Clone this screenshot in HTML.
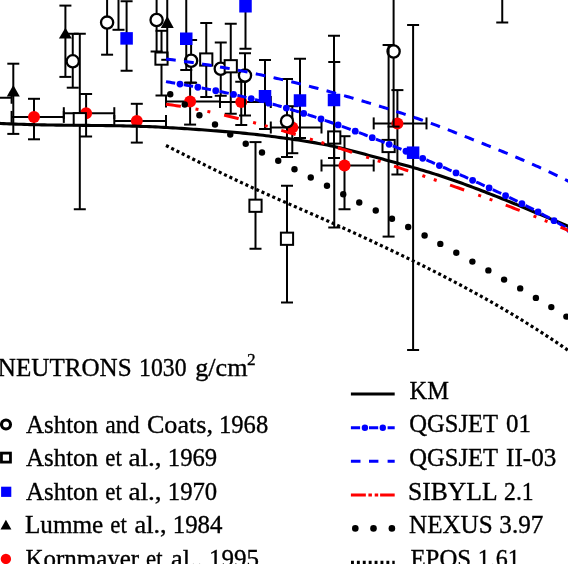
<!DOCTYPE html>
<html><head><meta charset="utf-8"><title>chart</title>
<style>html,body{margin:0;padding:0;background:#fff;}svg{display:block}</style></head>
<body><svg width="568" height="564" viewBox="0 0 568 564">
<rect width="568" height="564" fill="#fff"/>
<g stroke="#000" stroke-width="2.0" fill="none">
<path d="M-2 97.8H11.6M11.6 91.8V103.8"/>
<path d="M34.00 98.80V139.30" />
<path d="M28.00 98.80H40.00" />
<path d="M28.00 139.30H40.00" />
<path d="M11.60 116.90H63.80" />
<path d="M11.60 110.90V122.90" />
<path d="M63.80 110.90V122.90" />
<path d="M86.10 94.00V136.50" />
<path d="M80.10 94.00H92.10" />
<path d="M80.10 136.50H92.10" />
<path d="M63.80 113.20H114.30" />
<path d="M63.80 107.20V119.20" />
<path d="M114.30 107.20V119.20" />
<path d="M136.80 103.80V142.60" />
<path d="M130.80 103.80H142.80" />
<path d="M130.80 142.60H142.80" />
<path d="M114.30 121.00H166.00" />
<path d="M114.30 115.00V127.00" />
<path d="M166.00 115.00V127.00" />
<path d="M190.10 82.70V124.60" />
<path d="M184.10 82.70H196.10" />
<path d="M184.10 124.60H196.10" />
<path d="M166.00 101.60H220.00" />
<path d="M166.00 95.60V107.60" />
<path d="M220.00 95.60V107.60" />
<path d="M241.25 81.75V125.00" />
<path d="M235.25 81.75H247.25" />
<path d="M235.25 125.00H247.25" />
<path d="M220.00 102.00H270.80" />
<path d="M220.00 96.00V108.00" />
<path d="M270.80 96.00V108.00" />
<path d="M292.30 106.20V153.20" />
<path d="M286.30 106.20H298.30" />
<path d="M286.30 153.20H298.30" />
<path d="M270.80 127.50H321.50" />
<path d="M270.80 121.50V133.50" />
<path d="M321.50 121.50V133.50" />
<path d="M344.50 136.20V209.25" />
<path d="M338.50 136.20H350.50" />
<path d="M338.50 209.25H350.50" />
<path d="M321.50 165.50H373.70" />
<path d="M321.50 159.50V171.50" />
<path d="M373.70 159.50V171.50" />
<path d="M397.40 90.10V174.50" />
<path d="M391.40 90.10H403.40" />
<path d="M391.40 174.50H403.40" />
<path d="M373.70 123.40H426.50" />
<path d="M373.70 117.40V129.40" />
<path d="M426.50 117.40V129.40" />
<circle cx="34" cy="116.9" r="6" fill="#ff0000" stroke="none"/>
<circle cx="86.1" cy="113.2" r="6" fill="#ff0000" stroke="none"/>
<circle cx="136.8" cy="121" r="6" fill="#ff0000" stroke="none"/>
<circle cx="190.1" cy="101.6" r="6" fill="#ff0000" stroke="none"/>
<circle cx="241.25" cy="102" r="6" fill="#ff0000" stroke="none"/>
<circle cx="292.3" cy="127.5" r="6" fill="#ff0000" stroke="none"/>
<circle cx="344.5" cy="165.5" r="6" fill="#ff0000" stroke="none"/>
<circle cx="397.4" cy="123.4" r="6" fill="#ff0000" stroke="none"/>
</g>
<g stroke="#000" stroke-width="2.0" fill="none">
<path d="M72.75 33.75V87.70" />
<path d="M66.75 33.75H78.75" />
<path d="M66.75 87.70H78.75" />
<path d="M107.10 -5.00V54.70" />
<path d="M101.10 -5.00H113.10" />
<path d="M101.10 54.70H113.10" />
<path d="M156.60 -5.00V51.50" />
<path d="M150.60 -5.00H162.60" />
<path d="M150.60 51.50H162.60" />
<path d="M191.10 40.00V82.70" />
<path d="M185.10 40.00H197.10" />
<path d="M185.10 82.70H197.10" />
<path d="M220.75 42.50V95.75" />
<path d="M214.75 42.50H226.75" />
<path d="M214.75 95.75H226.75" />
<path d="M245.00 53.25V115.50" />
<path d="M239.00 53.25H251.00" />
<path d="M239.00 115.50H251.00" />
<path d="M287.00 79.00V157.00" />
<path d="M281.00 79.00H293.00" />
<path d="M281.00 157.00H293.00" />
<path d="M393.60 -5.00V126.60" />
<path d="M387.60 -5.00H399.60" />
<path d="M387.60 126.60H399.60" />
<circle cx="72.75" cy="61.3" r="6.1" fill="#fff" stroke-width="2.3"/>
<circle cx="107.1" cy="22.6" r="6.1" fill="#fff" stroke-width="2.3"/>
<circle cx="156.6" cy="20" r="6.1" fill="#fff" stroke-width="2.3"/>
<circle cx="191.1" cy="60.75" r="6.1" fill="#fff" stroke-width="2.3"/>
<circle cx="220.75" cy="68.75" r="6.1" fill="#fff" stroke-width="2.3"/>
<circle cx="245" cy="75.5" r="6.1" fill="#fff" stroke-width="2.3"/>
<circle cx="287" cy="121.25" r="6.1" fill="#fff" stroke-width="2.3"/>
<circle cx="393.6" cy="51.5" r="6.1" fill="#fff" stroke-width="2.3"/>
</g>
<g stroke="#000" stroke-width="2.0" fill="none">
<path d="M79.80 33.75V209.25" />
<path d="M73.80 33.75H85.80" />
<path d="M73.80 209.25H85.80" />
<path d="M161.50 30.80V95.50" />
<path d="M155.50 30.80H167.50" />
<path d="M155.50 95.50H167.50" />
<path d="M206.25 23.00V97.00" />
<path d="M200.25 23.00H212.25" />
<path d="M200.25 97.00H212.25" />
<path d="M230.75 23.75V113.75" />
<path d="M224.75 23.75H236.75" />
<path d="M224.75 113.75H236.75" />
<path d="M334.25 62.00V227.50" />
<path d="M328.25 62.00H340.25" />
<path d="M328.25 227.50H340.25" />
<path d="M255.50 142.10V248.75" />
<path d="M249.50 142.10H261.50" />
<path d="M249.50 248.75H261.50" />
<path d="M287.00 185.75V302.50" />
<path d="M281.00 185.75H293.00" />
<path d="M281.00 302.50H293.00" />
<path d="M388.60 45.00V236.60" />
<path d="M382.60 45.00H394.60" />
<path d="M382.60 236.60H394.60" />
<rect x="73.70" y="113.10" width="12.2" height="12.2" fill="#fff" stroke-width="2"/>
<rect x="155.40" y="52.50" width="12.2" height="12.2" fill="#fff" stroke-width="2"/>
<rect x="200.15" y="53.40" width="12.2" height="12.2" fill="#fff" stroke-width="2"/>
<rect x="224.65" y="60.15" width="12.2" height="12.2" fill="#fff" stroke-width="2"/>
<rect x="328.15" y="131.40" width="12.2" height="12.2" fill="#fff" stroke-width="2"/>
<rect x="249.40" y="199.65" width="12.2" height="12.2" fill="#fff" stroke-width="2"/>
<rect x="280.90" y="232.65" width="12.2" height="12.2" fill="#fff" stroke-width="2"/>
<rect x="382.50" y="139.90" width="12.2" height="12.2" fill="#fff" stroke-width="2"/>
</g>
<g stroke="#000" stroke-width="2.0" fill="none">
<path d="M126.60 1.25V70.75" />
<path d="M120.60 1.25H132.60" />
<path d="M120.60 70.75H132.60" />
<path d="M186.25 -5.00V70.00" />
<path d="M180.25 -5.00H192.25" />
<path d="M180.25 70.00H192.25" />
<path d="M245.50 -5.00V48.75" />
<path d="M239.50 -5.00H251.50" />
<path d="M239.50 48.75H251.50" />
<path d="M265.00 60.00V129.00" />
<path d="M259.00 60.00H271.00" />
<path d="M259.00 129.00H271.00" />
<path d="M300.00 58.75V138.00" />
<path d="M294.00 58.75H306.00" />
<path d="M294.00 138.00H306.00" />
<path d="M334.00 35.75V158.00" />
<path d="M328.00 35.75H340.00" />
<path d="M328.00 158.00H340.00" />
<path d="M413.10 25.00V350.00" />
<path d="M407.10 25.00H419.10" />
<path d="M407.10 350.00H419.10" />
<path d="M118.50 -5.00V29.80" />
<path d="M112.50 -5.00H124.50" />
<path d="M112.50 29.80H124.50" />
<path d="M502.25 -5.00V22.50" />
<path d="M496.25 -5.00H508.25" />
<path d="M496.25 22.50H508.25" />
<rect x="120.35" y="32.15" width="12.5" height="12.5" fill="#0000ff" stroke="none"/>
<rect x="180.00" y="32.50" width="12.5" height="12.5" fill="#0000ff" stroke="none"/>
<rect x="239.25" y="0.00" width="12.5" height="12.5" fill="#0000ff" stroke="none"/>
<rect x="258.75" y="90.00" width="12.5" height="12.5" fill="#0000ff" stroke="none"/>
<rect x="293.75" y="94.25" width="12.5" height="12.5" fill="#0000ff" stroke="none"/>
<rect x="327.75" y="93.75" width="12.5" height="12.5" fill="#0000ff" stroke="none"/>
<rect x="406.85" y="146.45" width="12.5" height="12.5" fill="#0000ff" stroke="none"/>
</g>
<g stroke="#000" stroke-width="2.0" fill="none">
<path d="M13.30 63.70V133.90" />
<path d="M7.30 63.70H19.30" />
<path d="M7.30 133.90H19.30" />
<path d="M65.40 5.60V76.90" />
<path d="M59.40 5.60H71.40" />
<path d="M59.40 76.90H71.40" />
<path d="M167.25 -5.00V59.80" />
<path d="M161.25 -5.00H173.25" />
<path d="M161.25 59.80H173.25" />
<path d="M13.3 85.0L19.8 96.5H6.800000000000001Z" fill="#000" stroke="none"/>
<path d="M65.4 27.8L71.9 38.6H58.900000000000006Z" fill="#000" stroke="none"/>
<path d="M167.25 15.95L173.75 28.1H160.75Z" fill="#000" stroke="none"/>
</g>
<g fill="none" stroke-linecap="butt">
<path d="M-5.00 123.12 L-2.09 123.29 L0.83 123.45 L3.74 123.60 L6.66 123.74 L9.57 123.87 L12.49 124.00 L15.40 124.11 L18.32 124.22 L21.23 124.32 L24.15 124.42 L27.06 124.50 L29.97 124.58 L32.89 124.66 L35.80 124.73 L38.72 124.79 L41.63 124.85 L44.55 124.91 L47.46 124.96 L50.38 125.00 L53.29 125.05 L56.21 125.08 L59.12 125.12 L62.04 125.16 L64.95 125.19 L67.86 125.22 L70.78 125.25 L73.69 125.27 L76.61 125.30 L79.52 125.32 L82.44 125.35 L85.35 125.38 L88.27 125.40 L91.18 125.43 L94.10 125.46 L97.01 125.49 L99.92 125.52 L102.84 125.55 L105.75 125.59 L108.67 125.63 L111.58 125.67 L114.50 125.72 L117.41 125.77 L120.33 125.82 L123.24 125.88 L126.16 125.94 L129.07 126.01 L131.98 126.09 L134.90 126.17 L137.81 126.25 L140.73 126.35 L143.64 126.45 L146.56 126.55 L149.47 126.67 L152.39 126.79 L155.30 126.92 L158.22 127.06 L161.13 127.20 L164.05 127.36 L166.96 127.51 L169.87 127.68 L172.79 127.85 L175.70 128.03 L178.62 128.21 L181.53 128.39 L184.45 128.58 L187.36 128.78 L190.28 128.98 L193.19 129.18 L196.11 129.39 L199.02 129.60 L201.93 129.81 L204.85 130.03 L207.76 130.24 L210.68 130.46 L213.59 130.68 L216.51 130.90 L219.42 131.13 L222.34 131.36 L225.25 131.59 L228.17 131.82 L231.08 132.06 L233.99 132.31 L236.91 132.56 L239.82 132.82 L242.74 133.10 L245.65 133.38 L248.57 133.67 L251.48 133.98 L254.40 134.29 L257.31 134.62 L260.23 134.96 L263.14 135.31 L266.06 135.67 L268.97 136.04 L271.88 136.42 L274.80 136.81 L277.71 137.20 L280.63 137.59 L283.54 137.99 L286.46 138.40 L289.37 138.81 L292.29 139.22 L295.20 139.64 L298.12 140.07 L301.03 140.51 L303.94 140.96 L306.86 141.42 L309.77 141.90 L312.69 142.39 L315.60 142.89 L318.52 143.41 L321.43 143.95 L324.35 144.51 L327.26 145.09 L330.18 145.69 L333.09 146.31 L336.01 146.96 L338.92 147.63 L341.83 148.32 L344.75 149.02 L347.66 149.75 L350.58 150.48 L353.49 151.24 L356.41 152.00 L359.32 152.77 L362.24 153.55 L365.15 154.34 L368.07 155.13 L370.98 155.93 L373.89 156.73 L376.81 157.53 L379.72 158.33 L382.64 159.12 L385.55 159.91 L388.47 160.71 L391.38 161.50 L394.30 162.29 L397.21 163.09 L400.13 163.88 L403.04 164.69 L405.95 165.49 L408.87 166.31 L411.78 167.13 L414.70 167.96 L417.61 168.81 L420.53 169.66 L423.44 170.52 L426.36 171.40 L429.27 172.29 L432.19 173.20 L435.10 174.12 L438.02 175.06 L440.93 176.01 L443.84 176.98 L446.76 177.96 L449.67 178.95 L452.59 179.96 L455.50 180.98 L458.42 182.01 L461.33 183.06 L464.25 184.11 L467.16 185.18 L470.08 186.26 L472.99 187.35 L475.90 188.45 L478.82 189.56 L481.73 190.68 L484.65 191.80 L487.56 192.94 L490.48 194.08 L493.39 195.23 L496.31 196.39 L499.22 197.56 L502.14 198.73 L505.05 199.91 L507.96 201.10 L510.88 202.29 L513.79 203.48 L516.71 204.69 L519.62 205.89 L522.54 207.10 L525.45 208.31 L528.37 209.53 L531.28 210.75 L534.20 211.97 L537.11 213.20 L540.03 214.42 L542.94 215.65 L545.85 216.88 L548.77 218.11 L551.68 219.34 L554.60 220.57 L557.51 221.80 L560.43 223.03 L563.34 224.25 L566.26 225.48 L569.17 226.70 L572.09 227.92 L575.00 229.14" stroke="#000" stroke-width="3.1"/>
<path d="M166.00 59.11 L168.06 59.34 L170.11 59.59 L172.17 59.83 L174.22 60.08 L176.28 60.34 L178.33 60.60 L180.39 60.87 L182.44 61.14 L184.50 61.42 L186.55 61.70 L188.61 61.98 L190.66 62.27 L192.72 62.57 L194.77 62.87 L196.83 63.17 L198.88 63.48 L200.94 63.79 L202.99 64.11 L205.05 64.44 L207.11 64.76 L209.16 65.09 L211.22 65.43 L213.27 65.77 L215.33 66.12 L217.38 66.47 L219.44 66.82 L221.49 67.18 L223.55 67.54 L225.60 67.91 L227.66 68.28 L229.71 68.65 L231.77 69.03 L233.82 69.42 L235.88 69.81 L237.93 70.20 L239.99 70.60 L242.05 71.00 L244.10 71.40 L246.16 71.81 L248.21 72.22 L250.27 72.64 L252.32 73.06 L254.38 73.49 L256.43 73.92 L258.49 74.35 L260.54 74.79 L262.60 75.23 L264.65 75.67 L266.71 76.12 L268.76 76.58 L270.82 77.03 L272.87 77.49 L274.93 77.96 L276.98 78.43 L279.04 78.90 L281.10 79.38 L283.15 79.86 L285.21 80.34 L287.26 80.83 L289.32 81.32 L291.37 81.81 L293.43 82.31 L295.48 82.81 L297.54 83.32 L299.59 83.82 L301.65 84.34 L303.70 84.85 L305.76 85.37 L307.81 85.89 L309.87 86.42 L311.92 86.95 L313.98 87.48 L316.04 88.02 L318.09 88.56 L320.15 89.10 L322.20 89.65 L324.26 90.20 L326.31 90.75 L328.37 91.31 L330.42 91.87 L332.48 92.43 L334.53 93.00 L336.59 93.56 L338.64 94.14 L340.70 94.71 L342.75 95.29 L344.81 95.87 L346.86 96.46 L348.92 97.04 L350.97 97.63 L353.03 98.23 L355.09 98.82 L357.14 99.42 L359.20 100.03 L361.25 100.63 L363.31 101.24 L365.36 101.85 L367.42 102.47 L369.47 103.08 L371.53 103.70 L373.58 104.33 L375.64 104.95 L377.69 105.58 L379.75 106.21 L381.80 106.85 L383.86 107.49 L385.91 108.13 L387.97 108.78 L390.03 109.43 L392.08 110.09 L394.14 110.75 L396.19 111.41 L398.25 112.08 L400.30 112.75 L402.36 113.43 L404.41 114.11 L406.47 114.79 L408.52 115.48 L410.58 116.18 L412.63 116.88 L414.69 117.58 L416.74 118.29 L418.80 119.01 L420.85 119.73 L422.91 120.46 L424.96 121.19 L427.02 121.93 L429.08 122.67 L431.13 123.42 L433.19 124.17 L435.24 124.94 L437.30 125.70 L439.35 126.48 L441.41 127.25 L443.46 128.04 L445.52 128.83 L447.57 129.62 L449.63 130.42 L451.68 131.22 L453.74 132.02 L455.79 132.83 L457.85 133.63 L459.90 134.45 L461.96 135.26 L464.02 136.07 L466.07 136.89 L468.13 137.71 L470.18 138.52 L472.24 139.34 L474.29 140.16 L476.35 140.98 L478.40 141.80 L480.46 142.62 L482.51 143.44 L484.57 144.26 L486.62 145.09 L488.68 145.91 L490.73 146.74 L492.79 147.57 L494.84 148.40 L496.90 149.24 L498.95 150.07 L501.01 150.91 L503.07 151.76 L505.12 152.60 L507.18 153.45 L509.23 154.30 L511.29 155.16 L513.34 156.02 L515.40 156.89 L517.45 157.75 L519.51 158.63 L521.56 159.50 L523.62 160.39 L525.67 161.27 L527.73 162.17 L529.78 163.06 L531.84 163.97 L533.89 164.88 L535.95 165.79 L538.01 166.71 L540.06 167.64 L542.12 168.57 L544.17 169.51 L546.23 170.46 L548.28 171.41 L550.34 172.37 L552.39 173.34 L554.45 174.32 L556.50 175.30 L558.56 176.29 L560.61 177.29 L562.67 178.30 L564.72 179.31 L566.78 180.34 L568.83 181.37 L570.89 182.41 L572.94 183.46 L575.00 184.52" stroke="#0000ff" stroke-width="3" stroke-dasharray="9.8 8.4"/>
<path d="M166.00 81.61 L168.06 81.98 L170.11 82.35 L172.17 82.71 L174.22 83.07 L176.28 83.44 L178.33 83.80 L180.39 84.16 L182.44 84.52 L184.50 84.88 L186.55 85.25 L188.61 85.61 L190.66 85.98 L192.72 86.34 L194.77 86.71 L196.83 87.08 L198.88 87.46 L200.94 87.83 L202.99 88.21 L205.05 88.60 L207.11 88.98 L209.16 89.37 L211.22 89.77 L213.27 90.17 L215.33 90.58 L217.38 90.99 L219.44 91.40 L221.49 91.83 L223.55 92.26 L225.60 92.69 L227.66 93.13 L229.71 93.57 L231.77 94.02 L233.82 94.48 L235.88 94.94 L237.93 95.41 L239.99 95.88 L242.05 96.36 L244.10 96.85 L246.16 97.34 L248.21 97.83 L250.27 98.34 L252.32 98.84 L254.38 99.36 L256.43 99.88 L258.49 100.40 L260.54 100.93 L262.60 101.47 L264.65 102.01 L266.71 102.56 L268.76 103.11 L270.82 103.67 L272.87 104.24 L274.93 104.81 L276.98 105.38 L279.04 105.97 L281.10 106.55 L283.15 107.15 L285.21 107.75 L287.26 108.35 L289.32 108.96 L291.37 109.58 L293.43 110.20 L295.48 110.82 L297.54 111.46 L299.59 112.09 L301.65 112.73 L303.70 113.38 L305.76 114.03 L307.81 114.69 L309.87 115.35 L311.92 116.02 L313.98 116.69 L316.04 117.37 L318.09 118.05 L320.15 118.74 L322.20 119.43 L324.26 120.13 L326.31 120.83 L328.37 121.54 L330.42 122.25 L332.48 122.96 L334.53 123.68 L336.59 124.41 L338.64 125.14 L340.70 125.87 L342.75 126.61 L344.81 127.35 L346.86 128.10 L348.92 128.85 L350.97 129.60 L353.03 130.36 L355.09 131.13 L357.14 131.89 L359.20 132.67 L361.25 133.44 L363.31 134.22 L365.36 135.01 L367.42 135.79 L369.47 136.59 L371.53 137.38 L373.58 138.18 L375.64 138.98 L377.69 139.79 L379.75 140.60 L381.80 141.42 L383.86 142.23 L385.91 143.06 L387.97 143.88 L390.03 144.71 L392.08 145.54 L394.14 146.38 L396.19 147.22 L398.25 148.06 L400.30 148.90 L402.36 149.75 L404.41 150.60 L406.47 151.46 L408.52 152.32 L410.58 153.18 L412.63 154.04 L414.69 154.91 L416.74 155.78 L418.80 156.65 L420.85 157.52 L422.91 158.40 L424.96 159.28 L427.02 160.17 L429.08 161.05 L431.13 161.94 L433.19 162.83 L435.24 163.73 L437.30 164.62 L439.35 165.52 L441.41 166.42 L443.46 167.32 L445.52 168.23 L447.57 169.14 L449.63 170.05 L451.68 170.96 L453.74 171.87 L455.79 172.79 L457.85 173.70 L459.90 174.62 L461.96 175.55 L464.02 176.47 L466.07 177.39 L468.13 178.32 L470.18 179.25 L472.24 180.18 L474.29 181.11 L476.35 182.05 L478.40 182.98 L480.46 183.92 L482.51 184.86 L484.57 185.80 L486.62 186.75 L488.68 187.70 L490.73 188.65 L492.79 189.60 L494.84 190.56 L496.90 191.52 L498.95 192.49 L501.01 193.46 L503.07 194.44 L505.12 195.42 L507.18 196.40 L509.23 197.39 L511.29 198.39 L513.34 199.39 L515.40 200.39 L517.45 201.41 L519.51 202.43 L521.56 203.45 L523.62 204.48 L525.67 205.52 L527.73 206.56 L529.78 207.62 L531.84 208.68 L533.89 209.74 L535.95 210.82 L538.01 211.90 L540.06 212.99 L542.12 214.09 L544.17 215.20 L546.23 216.32 L548.28 217.44 L550.34 218.58 L552.39 219.72 L554.45 220.88 L556.50 222.04 L558.56 223.22 L560.61 224.40 L562.67 225.60 L564.72 226.80 L566.78 228.02 L568.83 229.25 L570.89 230.49 L572.94 231.74 L575.00 233.00" stroke="#0000ff" stroke-width="3" stroke-dasharray="9.3 8.88"/>
<circle cx="179.98" cy="84.09" r="3.4" fill="#0000ff" stroke="none"/>
<circle cx="197.88" cy="87.27" r="3.4" fill="#0000ff" stroke="none"/>
<circle cx="215.74" cy="90.66" r="3.4" fill="#0000ff" stroke="none"/>
<circle cx="233.53" cy="94.42" r="3.4" fill="#0000ff" stroke="none"/>
<circle cx="251.23" cy="98.57" r="3.4" fill="#0000ff" stroke="none"/>
<circle cx="268.83" cy="103.13" r="3.4" fill="#0000ff" stroke="none"/>
<circle cx="286.32" cy="108.08" r="3.4" fill="#0000ff" stroke="none"/>
<circle cx="303.71" cy="113.38" r="3.4" fill="#0000ff" stroke="none"/>
<circle cx="320.99" cy="119.02" r="3.4" fill="#0000ff" stroke="none"/>
<circle cx="338.17" cy="124.97" r="3.4" fill="#0000ff" stroke="none"/>
<circle cx="355.25" cy="131.19" r="3.4" fill="#0000ff" stroke="none"/>
<circle cx="372.24" cy="137.66" r="3.4" fill="#0000ff" stroke="none"/>
<circle cx="389.15" cy="144.36" r="3.4" fill="#0000ff" stroke="none"/>
<circle cx="405.97" cy="151.25" r="3.4" fill="#0000ff" stroke="none"/>
<circle cx="422.72" cy="158.32" r="3.4" fill="#0000ff" stroke="none"/>
<circle cx="439.40" cy="165.54" r="3.4" fill="#0000ff" stroke="none"/>
<circle cx="456.03" cy="172.89" r="3.4" fill="#0000ff" stroke="none"/>
<circle cx="472.61" cy="180.35" r="3.4" fill="#0000ff" stroke="none"/>
<circle cx="489.14" cy="187.91" r="3.4" fill="#0000ff" stroke="none"/>
<circle cx="505.59" cy="195.64" r="3.4" fill="#0000ff" stroke="none"/>
<circle cx="521.92" cy="203.63" r="3.4" fill="#0000ff" stroke="none"/>
<circle cx="538.09" cy="211.95" r="3.4" fill="#0000ff" stroke="none"/>
<circle cx="554.05" cy="220.65" r="3.4" fill="#0000ff" stroke="none"/>
<circle cx="569.76" cy="229.80" r="3.4" fill="#0000ff" stroke="none"/>
<path d="M166.00 104.21 L168.06 104.49 L170.11 104.77 L172.17 105.07 L174.22 105.37 L176.28 105.69 L178.33 106.01 L180.39 106.34 L182.44 106.67 L184.50 107.02 L186.55 107.37 L188.61 107.73 L190.66 108.10 L192.72 108.48 L194.77 108.87 L196.83 109.26 L198.88 109.66 L200.94 110.06 L202.99 110.48 L205.05 110.90 L207.11 111.32 L209.16 111.76 L211.22 112.20 L213.27 112.64 L215.33 113.10 L217.38 113.56 L219.44 114.02 L221.49 114.49 L223.55 114.97 L225.60 115.45 L227.66 115.94 L229.71 116.44 L231.77 116.94 L233.82 117.44 L235.88 117.95 L237.93 118.47 L239.99 118.99 L242.05 119.51 L244.10 120.04 L246.16 120.58 L248.21 121.12 L250.27 121.66 L252.32 122.21 L254.38 122.76 L256.43 123.32 L258.49 123.88 L260.54 124.44 L262.60 125.01 L264.65 125.58 L266.71 126.16 L268.76 126.74 L270.82 127.32 L272.87 127.91 L274.93 128.50 L276.98 129.09 L279.04 129.68 L281.10 130.28 L283.15 130.88 L285.21 131.49 L287.26 132.09 L289.32 132.70 L291.37 133.32 L293.43 133.93 L295.48 134.55 L297.54 135.17 L299.59 135.79 L301.65 136.42 L303.70 137.05 L305.76 137.68 L307.81 138.31 L309.87 138.94 L311.92 139.58 L313.98 140.22 L316.04 140.86 L318.09 141.50 L320.15 142.15 L322.20 142.79 L324.26 143.44 L326.31 144.09 L328.37 144.75 L330.42 145.40 L332.48 146.05 L334.53 146.71 L336.59 147.37 L338.64 148.03 L340.70 148.69 L342.75 149.35 L344.81 150.01 L346.86 150.68 L348.92 151.34 L350.97 152.01 L353.03 152.68 L355.09 153.35 L357.14 154.01 L359.20 154.68 L361.25 155.35 L363.31 156.03 L365.36 156.70 L367.42 157.37 L369.47 158.04 L371.53 158.71 L373.58 159.39 L375.64 160.06 L377.69 160.74 L379.75 161.41 L381.80 162.09 L383.86 162.76 L385.91 163.44 L387.97 164.12 L390.03 164.80 L392.08 165.48 L394.14 166.16 L396.19 166.84 L398.25 167.52 L400.30 168.20 L402.36 168.88 L404.41 169.57 L406.47 170.25 L408.52 170.94 L410.58 171.63 L412.63 172.32 L414.69 173.01 L416.74 173.70 L418.80 174.39 L420.85 175.08 L422.91 175.78 L424.96 176.47 L427.02 177.17 L429.08 177.87 L431.13 178.57 L433.19 179.27 L435.24 179.97 L437.30 180.67 L439.35 181.38 L441.41 182.08 L443.46 182.79 L445.52 183.50 L447.57 184.21 L449.63 184.92 L451.68 185.64 L453.74 186.35 L455.79 187.07 L457.85 187.79 L459.90 188.51 L461.96 189.24 L464.02 189.96 L466.07 190.69 L468.13 191.41 L470.18 192.14 L472.24 192.88 L474.29 193.61 L476.35 194.35 L478.40 195.08 L480.46 195.82 L482.51 196.57 L484.57 197.31 L486.62 198.06 L488.68 198.81 L490.73 199.56 L492.79 200.31 L494.84 201.07 L496.90 201.83 L498.95 202.59 L501.01 203.35 L503.07 204.12 L505.12 204.89 L507.18 205.67 L509.23 206.44 L511.29 207.22 L513.34 208.01 L515.40 208.80 L517.45 209.59 L519.51 210.38 L521.56 211.18 L523.62 211.98 L525.67 212.79 L527.73 213.60 L529.78 214.41 L531.84 215.23 L533.89 216.06 L535.95 216.88 L538.01 217.71 L540.06 218.55 L542.12 219.39 L544.17 220.24 L546.23 221.09 L548.28 221.94 L550.34 222.80 L552.39 223.67 L554.45 224.54 L556.50 225.42 L558.56 226.30 L560.61 227.18 L562.67 228.08 L564.72 228.97 L566.78 229.88 L568.83 230.79 L570.89 231.70 L572.94 232.62 L575.00 233.55" stroke="#ff0000" stroke-width="3" stroke-dasharray="15 14.9 3 9.1 3 14.15"/>
<path d="M166.00 145.48 L168.06 146.52 L170.11 147.57 L172.17 148.61 L174.22 149.65 L176.28 150.69 L178.33 151.73 L180.39 152.76 L182.44 153.80 L184.50 154.83 L186.55 155.86 L188.61 156.89 L190.66 157.92 L192.72 158.95 L194.77 159.98 L196.83 161.00 L198.88 162.02 L200.94 163.04 L202.99 164.05 L205.05 165.07 L207.11 166.08 L209.16 167.09 L211.22 168.10 L213.27 169.10 L215.33 170.10 L217.38 171.10 L219.44 172.10 L221.49 173.09 L223.55 174.08 L225.60 175.07 L227.66 176.06 L229.71 177.04 L231.77 178.02 L233.82 178.99 L235.88 179.96 L237.93 180.93 L239.99 181.90 L242.05 182.86 L244.10 183.81 L246.16 184.77 L248.21 185.72 L250.27 186.67 L252.32 187.61 L254.38 188.55 L256.43 189.48 L258.49 190.42 L260.54 191.34 L262.60 192.27 L264.65 193.19 L266.71 194.11 L268.76 195.03 L270.82 195.95 L272.87 196.86 L274.93 197.77 L276.98 198.68 L279.04 199.59 L281.10 200.50 L283.15 201.40 L285.21 202.30 L287.26 203.21 L289.32 204.11 L291.37 205.01 L293.43 205.91 L295.48 206.81 L297.54 207.71 L299.59 208.61 L301.65 209.51 L303.70 210.41 L305.76 211.31 L307.81 212.21 L309.87 213.12 L311.92 214.02 L313.98 214.92 L316.04 215.83 L318.09 216.74 L320.15 217.65 L322.20 218.56 L324.26 219.47 L326.31 220.39 L328.37 221.30 L330.42 222.22 L332.48 223.14 L334.53 224.06 L336.59 224.99 L338.64 225.92 L340.70 226.84 L342.75 227.78 L344.81 228.71 L346.86 229.64 L348.92 230.58 L350.97 231.52 L353.03 232.46 L355.09 233.40 L357.14 234.35 L359.20 235.29 L361.25 236.24 L363.31 237.20 L365.36 238.15 L367.42 239.10 L369.47 240.06 L371.53 241.02 L373.58 241.98 L375.64 242.95 L377.69 243.91 L379.75 244.88 L381.80 245.85 L383.86 246.82 L385.91 247.79 L387.97 248.77 L390.03 249.75 L392.08 250.73 L394.14 251.71 L396.19 252.70 L398.25 253.68 L400.30 254.67 L402.36 255.66 L404.41 256.66 L406.47 257.66 L408.52 258.66 L410.58 259.66 L412.63 260.67 L414.69 261.67 L416.74 262.69 L418.80 263.70 L420.85 264.72 L422.91 265.74 L424.96 266.76 L427.02 267.79 L429.08 268.82 L431.13 269.86 L433.19 270.90 L435.24 271.94 L437.30 272.98 L439.35 274.03 L441.41 275.09 L443.46 276.14 L445.52 277.21 L447.57 278.27 L449.63 279.34 L451.68 280.41 L453.74 281.49 L455.79 282.57 L457.85 283.66 L459.90 284.75 L461.96 285.85 L464.02 286.95 L466.07 288.05 L468.13 289.16 L470.18 290.28 L472.24 291.40 L474.29 292.52 L476.35 293.65 L478.40 294.79 L480.46 295.93 L482.51 297.07 L484.57 298.22 L486.62 299.38 L488.68 300.54 L490.73 301.71 L492.79 302.88 L494.84 304.06 L496.90 305.24 L498.95 306.43 L501.01 307.63 L503.07 308.83 L505.12 310.03 L507.18 311.25 L509.23 312.47 L511.29 313.69 L513.34 314.93 L515.40 316.17 L517.45 317.41 L519.51 318.66 L521.56 319.92 L523.62 321.19 L525.67 322.46 L527.73 323.74 L529.78 325.02 L531.84 326.31 L533.89 327.61 L535.95 328.92 L538.01 330.23 L540.06 331.56 L542.12 332.88 L544.17 334.22 L546.23 335.56 L548.28 336.91 L550.34 338.27 L552.39 339.64 L554.45 341.01 L556.50 342.39 L558.56 343.78 L560.61 345.18 L562.67 346.58 L564.72 348.00 L566.78 349.42 L568.83 350.85 L570.89 352.29 L572.94 353.73 L575.00 355.19" stroke="#000" stroke-width="3.2" stroke-dasharray="3.05 2.85"/>
</g>
<circle cx="170.25" cy="94.25" r="3.2" fill="#000"/>
<circle cx="184.75" cy="104.50" r="3.2" fill="#000"/>
<circle cx="199.40" cy="115.20" r="3.2" fill="#000"/>
<circle cx="215.00" cy="124.50" r="3.2" fill="#000"/>
<circle cx="230.25" cy="134.50" r="3.2" fill="#000"/>
<circle cx="245.75" cy="143.75" r="3.2" fill="#000"/>
<circle cx="262.00" cy="152.50" r="3.2" fill="#000"/>
<circle cx="278.25" cy="160.75" r="3.2" fill="#000"/>
<circle cx="294.50" cy="169.25" r="3.2" fill="#000"/>
<circle cx="310.75" cy="177.50" r="3.2" fill="#000"/>
<circle cx="327.00" cy="185.75" r="3.2" fill="#000"/>
<circle cx="343.25" cy="194.25" r="3.2" fill="#000"/>
<circle cx="359.25" cy="202.50" r="3.2" fill="#000"/>
<circle cx="375.75" cy="210.50" r="3.2" fill="#000"/>
<circle cx="392.00" cy="218.75" r="3.2" fill="#000"/>
<circle cx="408.20" cy="227.00" r="3.2" fill="#000"/>
<circle cx="424.60" cy="235.50" r="3.2" fill="#000"/>
<circle cx="440.30" cy="243.90" r="3.2" fill="#000"/>
<circle cx="456.30" cy="252.70" r="3.2" fill="#000"/>
<circle cx="472.40" cy="261.60" r="3.2" fill="#000"/>
<circle cx="488.40" cy="270.40" r="3.2" fill="#000"/>
<circle cx="504.10" cy="279.60" r="3.2" fill="#000"/>
<circle cx="520.20" cy="288.40" r="3.2" fill="#000"/>
<circle cx="535.90" cy="297.90" r="3.2" fill="#000"/>
<circle cx="551.30" cy="307.10" r="3.2" fill="#000"/>
<circle cx="566.40" cy="316.60" r="3.2" fill="#000"/>
<g font-family="'Liberation Serif', serif" fill="#000" stroke="#000" stroke-width="0.35" style="filter:grayscale(1)">
<text x="-2.15" y="375.6" font-size="25" textLength="133.75" lengthAdjust="spacingAndGlyphs">NEUTRONS</text>
<text x="139.12" y="375.6" font-size="25" textLength="47.43" lengthAdjust="spacingAndGlyphs">1030</text>
<text x="195.20" y="375.6" font-size="25" textLength="52.31" lengthAdjust="spacingAndGlyphs">g/cm</text>
<text x="246.91" y="364.5" font-size="17.7" textLength="8.63" lengthAdjust="spacingAndGlyphs">2</text>
<text x="26.00" y="433" font-size="25" textLength="71.98" lengthAdjust="spacingAndGlyphs">Ashton</text>
<text x="105.30" y="433" font-size="25" textLength="34.23" lengthAdjust="spacingAndGlyphs">and</text>
<text x="146.95" y="433" font-size="25" textLength="66.07" lengthAdjust="spacingAndGlyphs">Coats,</text>
<text x="219.04" y="433" font-size="25" textLength="49.14" lengthAdjust="spacingAndGlyphs">1968</text>
<text x="26.00" y="466.2" font-size="25" textLength="71.98" lengthAdjust="spacingAndGlyphs">Ashton</text>
<text x="105.34" y="466.2" font-size="25" textLength="16.45" lengthAdjust="spacingAndGlyphs">et</text>
<text x="128.41" y="466.2" font-size="25" textLength="33.27" lengthAdjust="spacingAndGlyphs">al.,</text>
<text x="167.77" y="466.2" font-size="25" textLength="49.47" lengthAdjust="spacingAndGlyphs">1969</text>
<text x="26.00" y="499.6" font-size="25" textLength="71.98" lengthAdjust="spacingAndGlyphs">Ashton</text>
<text x="105.34" y="499.6" font-size="25" textLength="16.45" lengthAdjust="spacingAndGlyphs">et</text>
<text x="128.41" y="499.6" font-size="25" textLength="33.27" lengthAdjust="spacingAndGlyphs">al.,</text>
<text x="167.77" y="499.6" font-size="25" textLength="49.47" lengthAdjust="spacingAndGlyphs">1970</text>
<text x="25.00" y="533.2" font-size="25" textLength="78.27" lengthAdjust="spacingAndGlyphs">Lumme</text>
<text x="110.34" y="533.2" font-size="25" textLength="16.45" lengthAdjust="spacingAndGlyphs">et</text>
<text x="134.45" y="533.2" font-size="25" textLength="32.18" lengthAdjust="spacingAndGlyphs">al.,</text>
<text x="172.76" y="533.2" font-size="25" textLength="49.74" lengthAdjust="spacingAndGlyphs">1984</text>
<text x="25.50" y="567.0" font-size="25" textLength="113.59" lengthAdjust="spacingAndGlyphs">Kornmayer</text>
<text x="146.09" y="567.0" font-size="25" textLength="16.45" lengthAdjust="spacingAndGlyphs">et</text>
<text x="170.95" y="567.0" font-size="25" textLength="32.18" lengthAdjust="spacingAndGlyphs">al.,</text>
<text x="209.00" y="567.0" font-size="25" textLength="50.00" lengthAdjust="spacingAndGlyphs">1995</text>
<text x="409.62" y="398.8" font-size="25" textLength="39.35" lengthAdjust="spacingAndGlyphs">KM</text>
<text x="409.37" y="432.2" font-size="25" textLength="88.76" lengthAdjust="spacingAndGlyphs">QGSJET</text>
<text x="506.10" y="432.2" font-size="25" textLength="24.89" lengthAdjust="spacingAndGlyphs">01</text>
<text x="409.37" y="465.9" font-size="25" textLength="88.76" lengthAdjust="spacingAndGlyphs">QGSJET</text>
<text x="506.10" y="465.9" font-size="25" textLength="50.18" lengthAdjust="spacingAndGlyphs">II-03</text>
<text x="408.01" y="499.6" font-size="25" textLength="89.63" lengthAdjust="spacingAndGlyphs">SIBYLL</text>
<text x="504.05" y="499.6" font-size="25" textLength="29.57" lengthAdjust="spacingAndGlyphs">2.1</text>
<text x="409.05" y="533.1" font-size="25" textLength="83.65" lengthAdjust="spacingAndGlyphs">NEXUS</text>
<text x="499.34" y="533.1" font-size="25" textLength="44.01" lengthAdjust="spacingAndGlyphs">3.97</text>
<text x="410.46" y="566.5" font-size="25" textLength="60.66" lengthAdjust="spacingAndGlyphs">EPOS</text>
<text x="477.74" y="566.5" font-size="25" textLength="42.00" lengthAdjust="spacingAndGlyphs">1.61</text>
</g>
<circle cx="6" cy="424.5" r="4.5" fill="#fff" stroke="#000" stroke-width="3.1"/>
<rect x="1.45" y="453.1" width="9" height="9" fill="#fff" stroke="#000" stroke-width="2.8"/>
<rect x="1.1" y="486.7" width="10.2" height="10.2" fill="#0000ff"/>
<path d="M5.9 519.8L11.4 529.6H0.5Z" fill="#000"/>
<circle cx="5.9" cy="558.9" r="5.2" fill="#ff0000"/>
<path d="M350.9 394H394.7" stroke="#000" stroke-width="3.1"/>
<path d="M350.9 427.8H360.1M369 427.8H378.2M387.6 427.8H394.7" stroke="#0000ff" stroke-width="3"/>
<circle cx="364.9" cy="427.8" r="3.2" fill="#0000ff"/><circle cx="382.8" cy="427.8" r="3.2" fill="#0000ff"/>
<path d="M350.9 461.2H360.5M369 461.2H378.4M387.6 461.2H394.7" stroke="#0000ff" stroke-width="3"/>
<path d="M350.9 495H365.85M368.4 495H371.9M374.7 495H378.2M380.1 495H394.7" stroke="#ff0000" stroke-width="3"/>
<circle cx="355.3" cy="528.4" r="3.3" fill="#000"/>
<circle cx="373.5" cy="528.4" r="3.3" fill="#000"/>
<circle cx="391.9" cy="528.4" r="3.3" fill="#000"/>
<path d="M351 562.4H394.7" stroke="#000" stroke-width="3.2" stroke-dasharray="2.9 3"/>
</svg></body></html>
